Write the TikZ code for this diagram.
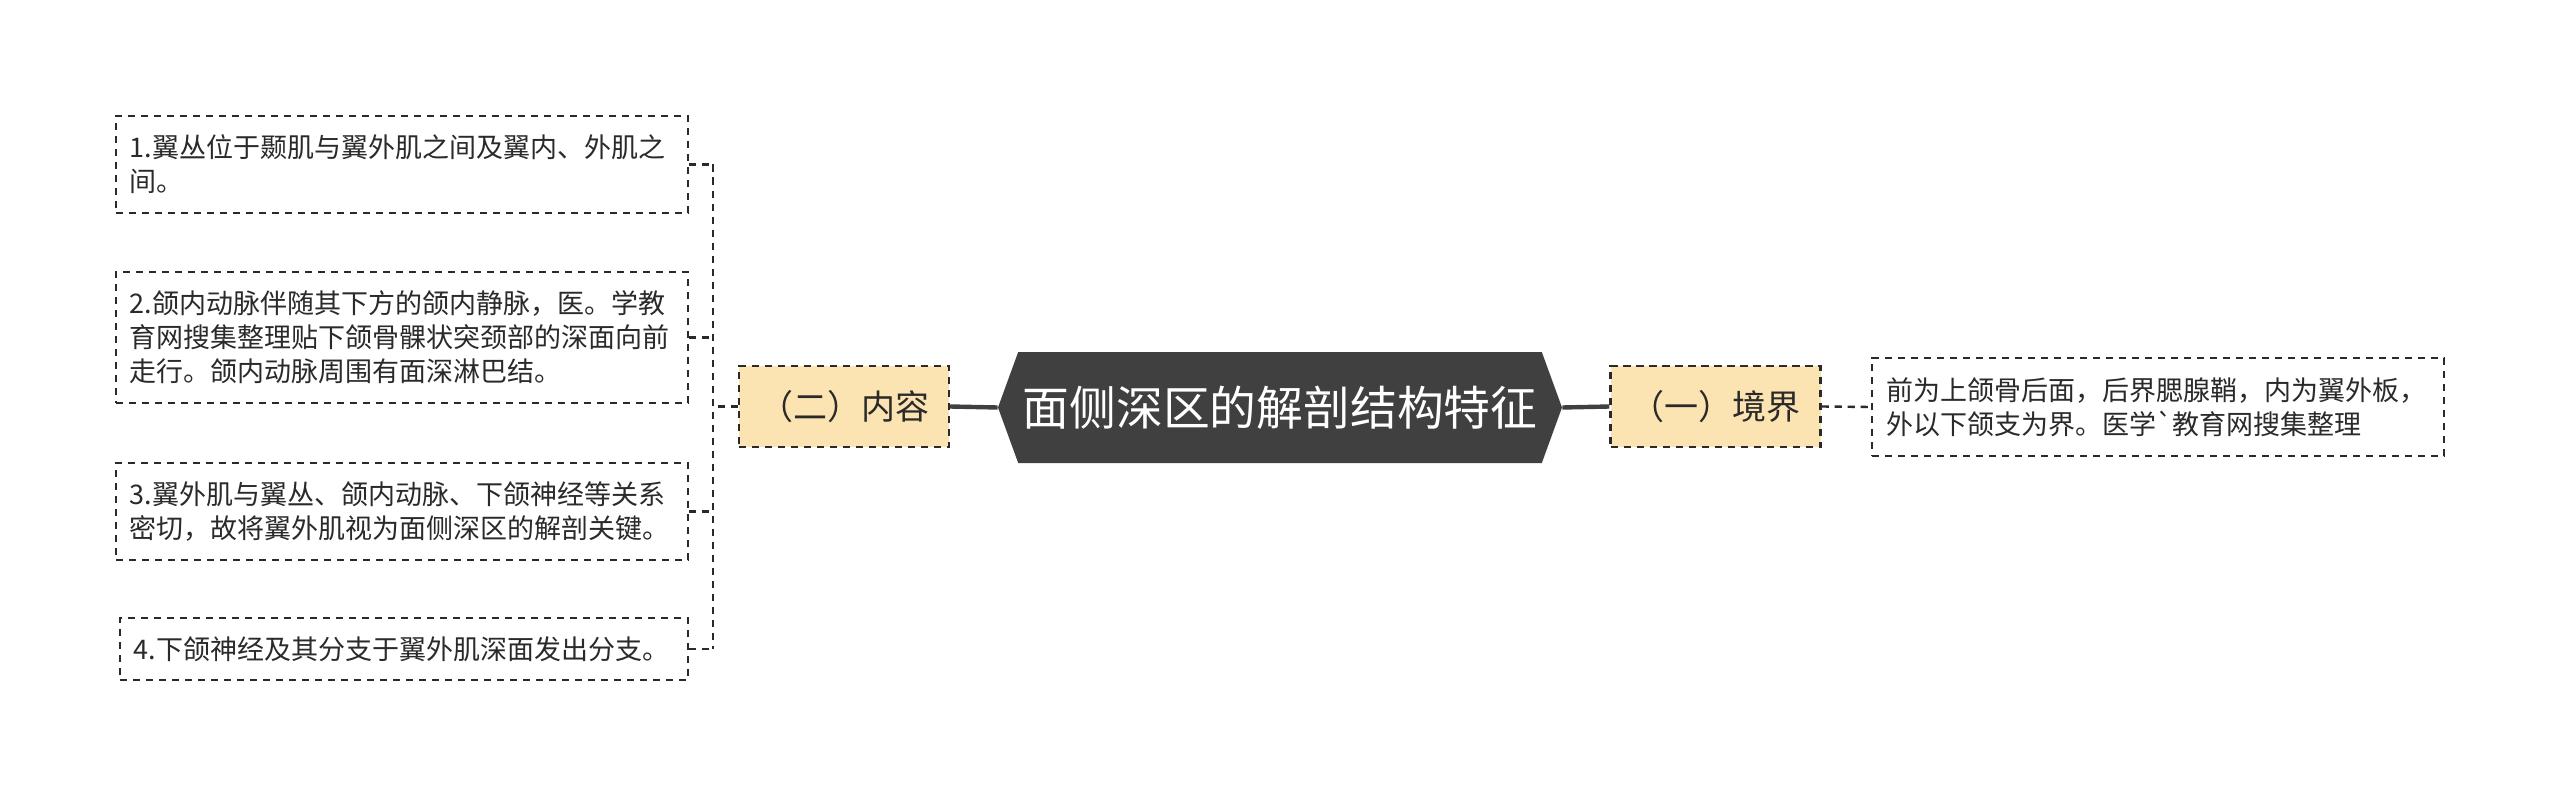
\documentclass[tikz,border=0pt]{standalone}
\usepackage{fontspec}
\setmainfont{Noto Sans CJK SC}[Ligatures=TeXOff]
\usetikzlibrary{shapes.symbols}
\definecolor{rootgray}{HTML}{404040}
\definecolor{inkgray}{HTML}{2A2A2A}
\definecolor{tanfill}{HTML}{FCE4B2}
\tikzset{
  twig/.style={draw=inkgray, line width=1.2pt, dash pattern=on 3.6pt off 2.9pt},
  trunk/.style={draw=rootgray, line width=2.2pt},
  leafbox/.style={twig, text=inkgray, align=left, text width=272pt, inner xsep=7pt, inner ysep=0pt, font=\fontsize{13.5}{17}\selectfont},
  midbox/.style={twig, fill=tanfill, text=inkgray, minimum width=105pt, minimum height=40.5pt, inner sep=0pt, font=\fontsize{17}{20}\selectfont},
  rootbox/.style={shape=signal, signal to=west and east, signal pointer angle=140, fill=rootgray, text=white, minimum width=282pt, minimum height=55.5pt, inner sep=0pt, font=\fontsize{23.4}{28}\selectfont}
}
\begin{document}
\begin{tikzpicture}[x=0.5pt, y=-0.5pt]
        \fill[white] (0, 0) rectangle (2560, 797);
        \useasboundingbox (0, 0) rectangle (2560, 797);
        \node[rootbox] (root) at (1280, 407.5) {面侧深区的解剖结构特征};
        \node[midbox] (sub2) at (844, 406.5) {（二）内容};
        \node[midbox] (sub1) at (1715.5, 406.5) {（一）境界};
        \node[leafbox, anchor=west, minimum height=49pt] (edge1) at (1871, 407)
            {前为上颌骨后面，后界腮腺鞘，内为翼外板，\\外以下颌支为界。医学`教育网搜集整理};
        \node[leafbox, anchor=east, minimum height=48.5pt] (item1) at (689, 164.5)
            {1.翼丛位于颞肌与翼外肌之间及翼内、外肌之\\间。};
        \node[leafbox, anchor=east, minimum height=65.5pt] (item2) at (689, 337.5)
            {2.颌内动脉伴随其下方的颌内静脉，医。学教\\育网搜集整理贴下颌骨髁状突颈部的深面向前\\走行。颌内动脉周围有面深淋巴结。};
        \node[leafbox, anchor=east, minimum height=48.5pt] (item3) at (689, 511.5)
            {3.翼外肌与翼丛、颌内动脉、下颌神经等关系\\密切，故将翼外肌视为面侧深区的解剖关键。};
        \node[leafbox, anchor=east, minimum height=31pt, text width=270pt] (item4) at (689, 649)
            {4.下颌神经及其分支于翼外肌深面发出分支。};
        \coordinate (fork) at (713, 406.5);
        \draw[trunk] (root.west) -- (sub2.east);
        \draw[trunk] (root.east) -- (sub1.west);
        \draw[twig] (sub1.east) -- (edge1.west);
        \draw[twig] (sub2.west) -- (fork);
        \draw[twig] (item1.east -| fork) -- (item4.east -| fork);
        \foreach \i in {1, 2, 3, 4}
            {\draw[twig] (item\i.east) -- (item\i.east -| fork);};
\end{tikzpicture}
\end{document}
